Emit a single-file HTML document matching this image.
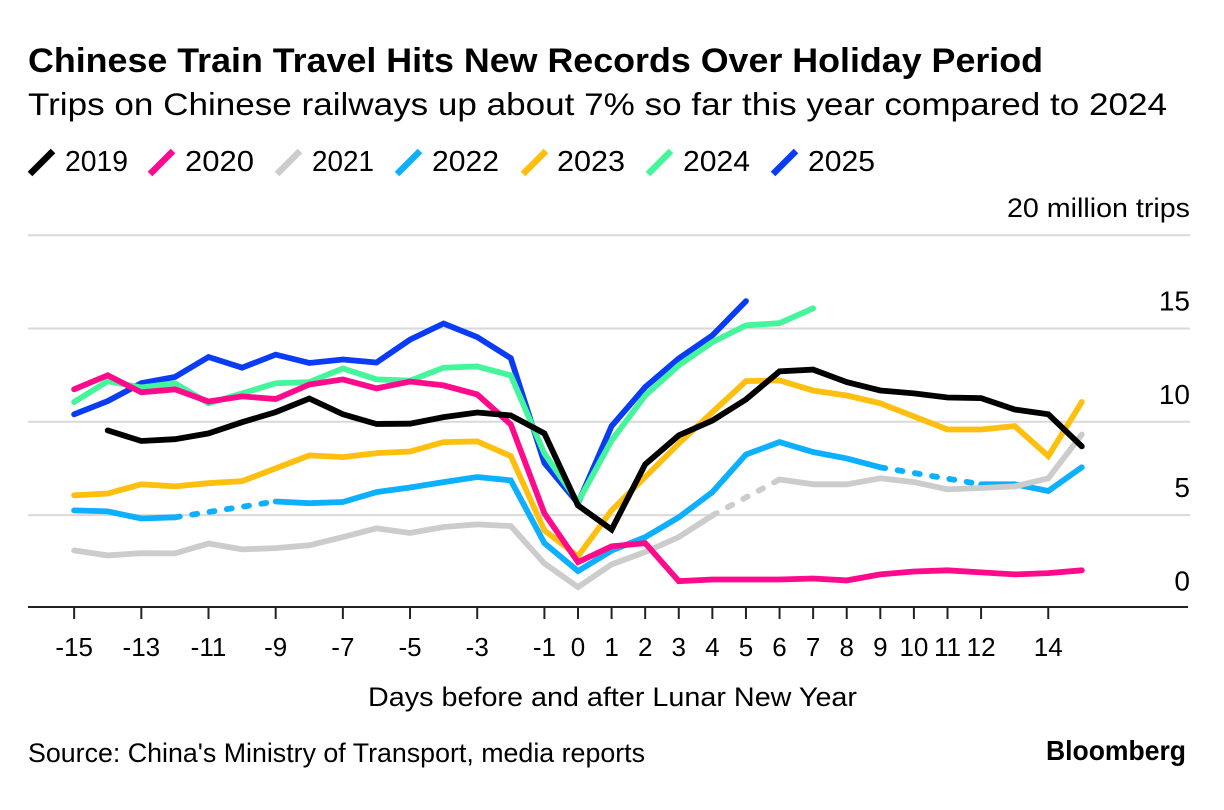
<!DOCTYPE html>
<html lang="en">
<head>
<meta charset="utf-8">
<title>Chinese Train Travel Hits New Records Over Holiday Period</title>
<style>
html,body{margin:0;padding:0;background:#fff;}
svg{display:block;}
text{font-family:"Liberation Sans",Arial,sans-serif;fill:#000;}
</style>
</head>
<body>
<svg id="chart" xmlns="http://www.w3.org/2000/svg" width="1224" height="810" viewBox="0 0 1224 810">
  <rect x="0" y="0" width="1224" height="810" fill="#fff"/>
  <text x="28" y="72" font-size="34.5" font-weight="700" textLength="1015" lengthAdjust="spacingAndGlyphs">Chinese Train Travel Hits New Records Over Holiday Period</text>
  <text x="28" y="115" font-size="31.5" textLength="1139" lengthAdjust="spacingAndGlyphs">Trips on Chinese railways up about 7% so far this year compared to 2024</text>

  <g>
    <g><line x1="30" y1="174" x2="53" y2="151" stroke="#000000" stroke-width="6.5"/><text x="65" y="171" font-size="29" textLength="63" lengthAdjust="spacingAndGlyphs">2019</text></g>
    <g><line x1="150" y1="174" x2="173" y2="151" stroke="#ff0a8c" stroke-width="6.5"/><text x="185" y="171" font-size="29" textLength="69" lengthAdjust="spacingAndGlyphs">2020</text></g>
    <g><line x1="277" y1="174" x2="300" y2="151" stroke="#cccccc" stroke-width="6.5"/><text x="312" y="171" font-size="29" textLength="62" lengthAdjust="spacingAndGlyphs">2021</text></g>
    <g><line x1="397" y1="174" x2="420" y2="151" stroke="#0cb0ff" stroke-width="6.5"/><text x="432" y="171" font-size="29" textLength="67" lengthAdjust="spacingAndGlyphs">2022</text></g>
    <g><line x1="523" y1="174" x2="546" y2="151" stroke="#ffbf0f" stroke-width="6.5"/><text x="557" y="171" font-size="29" textLength="68" lengthAdjust="spacingAndGlyphs">2023</text></g>
    <g><line x1="648" y1="174" x2="671" y2="151" stroke="#45f59c" stroke-width="6.5"/><text x="683" y="171" font-size="29" textLength="67" lengthAdjust="spacingAndGlyphs">2024</text></g>
    <g><line x1="773" y1="174" x2="796" y2="151" stroke="#0a3cf5" stroke-width="6.5"/><text x="808" y="171" font-size="29" textLength="67" lengthAdjust="spacingAndGlyphs">2025</text></g>
  </g>

  <g id="grid"></g>
  <g id="ylabels"></g>
  <g id="series"></g>
  <g id="xaxis"></g>

  <text x="368" y="706" font-size="27" textLength="489" lengthAdjust="spacingAndGlyphs">Days before and after Lunar New Year</text>
  <text x="28" y="762" font-size="26.5" textLength="617" lengthAdjust="spacingAndGlyphs">Source: China's Ministry of Transport, media reports</text>
  <text x="1046" y="760" font-size="28" font-weight="700" textLength="140" lengthAdjust="spacingAndGlyphs">Bloomberg</text>
</svg>
<script>
var days = [-15,-14,-13,-12,-11,-10,-9,-8,-7,-6,-5,-4,-3,-2,-1,0,1,2,3,4,5,6,7,8,9,10,11,12,13,14,15];
var xTickDays = [-15,-13,-11,-9,-7,-5,-3,-1,0,1,2,3,4,5,6,7,8,9,10,11,12,14];
var yTickValues = [0,5,10,15,20];
var yTickLabels = ["0","5","10","15","20 million trips"];

var values2019 = [null,9.54,8.97,9.07,9.38,9.98,10.52,11.25,10.4,9.88,9.9,10.25,10.5,10.34,9.38,5.52,4.23,7.72,9.27,10.07,11.2,12.7,12.8,12.13,11.68,11.52,11.3,11.27,10.66,10.4,8.68];
var values2020 = [11.74,12.49,11.58,11.74,11.09,11.36,11.22,12.0,12.27,11.79,12.16,11.95,11.47,9.86,5.09,2.48,3.32,3.5,1.46,1.55,1.55,1.55,1.6,1.5,1.82,1.98,2.04,1.93,1.82,1.89,2.04];
var values2021 = [3.11,2.84,2.96,2.95,3.48,3.16,3.23,3.38,3.82,4.29,4.04,4.36,4.5,4.41,2.41,1.14,2.36,3.02,3.82,4.98,null,6.91,6.65,6.65,6.97,6.77,6.38,6.45,6.54,6.97,9.32];
var values2022 = [5.25,5.2,4.82,4.88,null,null,5.73,5.64,5.7,6.23,6.48,6.77,7.04,6.86,3.5,2.0,3.1,3.82,4.88,6.23,8.25,8.91,8.38,8.04,7.56,null,null,6.65,6.65,6.29,7.56];
var values2023 = [6.06,6.16,6.65,6.54,6.71,6.82,7.5,8.2,8.11,8.32,8.41,8.91,8.95,8.16,4.18,2.79,5.25,7.04,8.84,10.52,12.18,12.22,11.68,11.41,10.99,10.29,9.59,9.59,9.77,8.16,11.06];
var values2024 = [11.06,12.18,11.84,12.07,10.99,11.52,12.07,12.13,12.86,12.27,12.2,12.9,12.97,12.49,8.3,5.7,9.0,11.41,13.02,14.27,15.17,15.29,16.08,null,null,null,null,null,null,null,null];
var values2025 = [10.4,11.11,12.07,12.4,13.47,12.9,13.6,13.15,13.34,13.18,14.4,15.27,14.54,13.41,7.79,5.63,9.77,11.86,13.4,14.63,16.47,null,null,null,null,null,null,null,null,null,null];

var SVGNS = "http://www.w3.org/2000/svg";
function xScale(d){ return 578 + d * 33.59; }
function yScale(v){ return 608.4 - v * 18.66; }
function make(tag, attrs, parent){
  var el = document.createElementNS(SVGNS, tag);
  for (var k in attrs) el.setAttribute(k, attrs[k]);
  parent.appendChild(el);
  return el;
}

var gridGroup = document.getElementById("grid");
var yLabelGroup = document.getElementById("ylabels");
yTickValues.forEach(function(v, i){
  if (v !== 0) {
    var gl = make("line", {x1:28, x2:1190, y1:yScale(v), y2:yScale(v), stroke:"#d9d9d9", "stroke-width":2}, gridGroup);
    
    
  }
  var t = make("text", {x:1190, y:yScale(v) - 18, "font-size":i === 4 ? 27 : 28, "text-anchor":"end"}, yLabelGroup);
  if (i === 4) {
    t.setAttribute("textLength", "183");
    t.setAttribute("lengthAdjust", "spacingAndGlyphs");
  }
  t.textContent = yTickLabels[i];
  
  
});

function drawSeries(name, vals, color){
  var group = make("g", {}, document.getElementById("series"));
  
  
  var run = [], lastEnd = null;
  function flush(){
    if (!run.length) return;
    var line = make("polyline", {points:run.map(function(p){return p[0].toFixed(1)+","+p[1].toFixed(1);}).join(" "), fill:"none", stroke:color, "stroke-width":5.8, "stroke-linecap":"round", "stroke-linejoin":"miter"}, group);
    
    
    lastEnd = run[run.length-1];
    run = [];
  }
  vals.forEach(function(v, i){
    if (v === null) { flush(); return; }
    var p = [xScale(days[i]), yScale(v)];
    if (!run.length && lastEnd) {
      var dash = make("line", {x1:lastEnd[0], y1:lastEnd[1], x2:p[0], y2:p[1], stroke:color, "stroke-width":5.8, "stroke-linecap":"round", "stroke-dasharray":"5 12.5"}, group);
      
      
    }
    run.push(p);
  });
  flush();
}
drawSeries("2025", values2025, "#0a3cf5");
drawSeries("2024", values2024, "#45f59c");
drawSeries("2023", values2023, "#ffbf0f");
drawSeries("2022", values2022, "#0cb0ff");
drawSeries("2021", values2021, "#cccccc");
drawSeries("2020", values2020, "#ff0a8c");
drawSeries("2019", values2019, "#000000");

var xAxisGroup = document.getElementById("xaxis");
var axisLine = make("line", {x1:28, x2:1188, y1:607, y2:607, stroke:"#222", "stroke-width":2}, xAxisGroup);


xTickDays.forEach(function(d){
  var tick = make("line", {x1:xScale(d), x2:xScale(d), y1:607, y2:619, stroke:"#222", "stroke-width":2}, xAxisGroup);
  
  
  var lab = make("text", {x:xScale(d), y:656, "font-size":26, "text-anchor":"middle"}, xAxisGroup);
  lab.textContent = String(d);
  
  
});
</script>
</body>
</html>
